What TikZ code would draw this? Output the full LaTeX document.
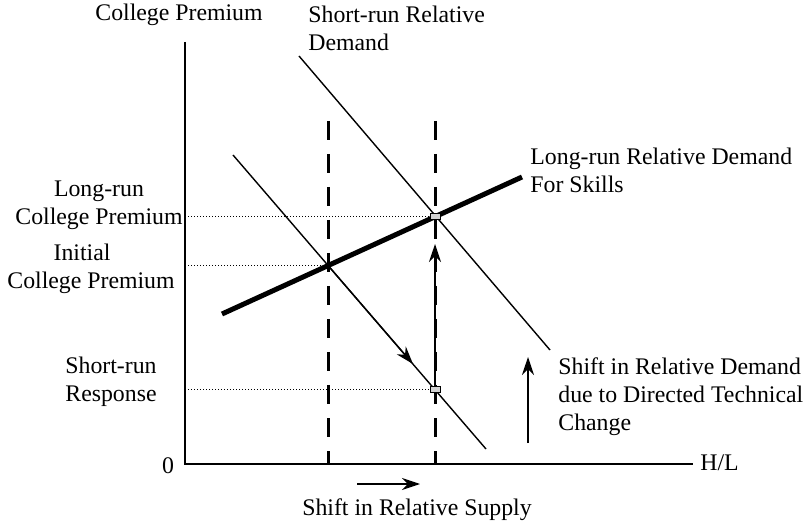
\documentclass[tikz,border=0pt]{standalone}
\usepackage{fontspec}
\setmainfont{Liberation Serif}
\usetikzlibrary{arrows.meta}

\begin{document}
\begin{tikzpicture}[x=0.5pt,y=-0.5pt,
    lbl/.style={inner sep=0pt, font=\fontsize{11.9pt}{14pt}\selectfont},
    demand/.style={line width=0.7pt},
    supply/.style={line width=1.5pt, dash pattern=on 9.5pt off 7pt},
    guide/.style={line width=0.5pt, dash pattern=on 0.5pt off 1pt},
    marker/.style={draw, fill=gray!35, line width=0.4pt, inner sep=0pt, minimum width=5pt, minimum height=3pt},
    arr/.style={line width=0.7pt, -{Stealth[length=9pt,width=6pt]}}]
    \useasboundingbox (0,0) rectangle (808,523);

    % axes
    \coordinate (origin) at (185,464);
    \coordinate (ytop) at (185,42);
    \coordinate (xend) at (693,464);
    \draw[line width=0.7pt] (ytop) -- (origin) -- (xend);

    % relative supply, before and after
    \coordinate (s0top) at (328,121);
    \coordinate (s1top) at (435,121);
    \draw[supply] (s0top) -- (s0top |- origin);
    \draw[supply] (s1top) -- (s1top |- origin);

    % short-run demand curves
    \coordinate (d0a) at (233,155);
    \coordinate (d0b) at (486,449);
    \coordinate (d1a) at (299,56);
    \coordinate (d1b) at (550,350);
    \draw[demand] (d0a) -- (d0b);
    \draw[demand] (d1a) -- (d1b);

    % long-run demand
    \coordinate (lra) at (222,314);
    \coordinate (lrb) at (522,177);
    \draw[line width=2.5pt] (lra) -- (lrb);

    % equilibria
    \coordinate (init) at (328,265.5);
    \coordinate (lr) at (435,216.5);
    \coordinate (sr) at (435,389.5);
    \draw[guide] (init -| origin) -- (init);
    \draw[guide] (lr -| origin) -- (lr);
    \draw[guide] (sr -| origin) -- (sr);

    % movements
    \coordinate (srtip) at (413,364);
    \coordinate (lrtip) at (435,244);
    \draw[arr] (init) -- (srtip);
    \draw[arr] (sr) -- (lrtip);
    \coordinate (dsa) at (528,443);
    \coordinate (dsb) at (528,357);
    \draw[arr] (dsa) -- (dsb);
    \coordinate (ssa) at (357,484);
    \coordinate (ssb) at (420,484);
    \draw[arr] (ssa) -- (ssb);

    \node[marker] (lrsq) at (lr) {};
    \node[marker] (srsq) at (sr) {};

    % labels
    \node[lbl] (yaxis) at (179,15) {College Premium};
    \node[lbl, anchor=west, align=left] (srd) at (308,28) {Short-run Relative\\Demand};
    \node[lbl, anchor=west, align=left] (lrd) at (530,170) {Long-run Relative Demand\\For Skills};
    \node[lbl, align=center] (lrcp) at (99,205) {Long-run\\College Premium};
    \node[lbl, align=center] (icp) at (91,269) {Initial\hspace*{9pt}\\College Premium};
    \node[lbl, align=center] (srr) at (111,382) {Short-run\\Response};
    \node[lbl, anchor=west, align=left] (dshift) at (558,397) {Shift in Relative Demand\\due to Directed Technical\\Change};
    \node[lbl] (zero) at (168,466) {0};
    \node[lbl, anchor=west] (hl) at (700,463) {H/L};
    \node[lbl] (sshift) at (417,510) {Shift in Relative Supply};
\end{tikzpicture}
\end{document}
